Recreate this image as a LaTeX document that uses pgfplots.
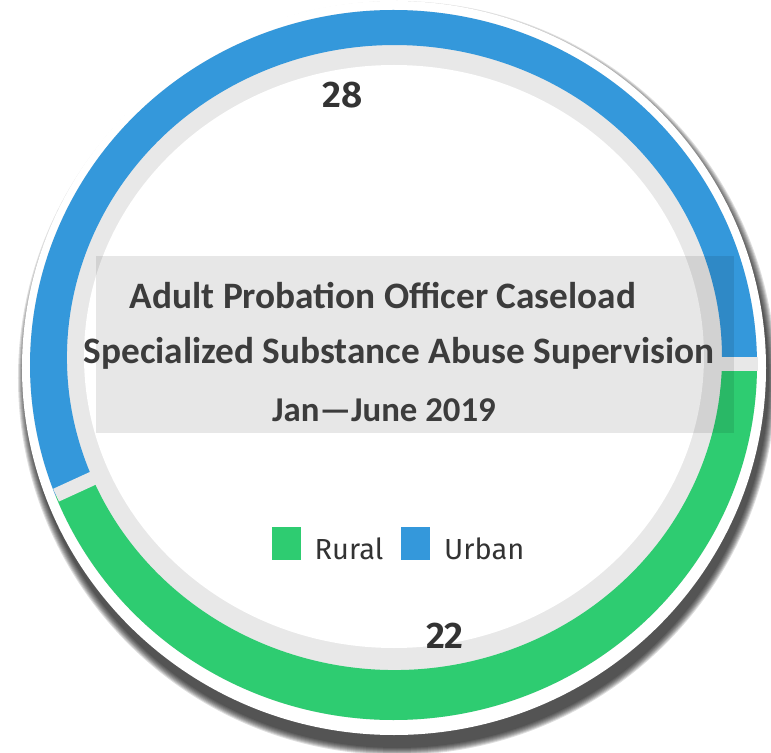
\documentclass[border=0pt]{standalone}
\usepackage{fontspec}
\setmainfont{Carlito}
\newfontfamily\firasans{Fira Sans}
\newfontfamily\firasemi{Fira Sans SemiBold}
\usepackage{pgfplots}
\usepackage{pgfplotstable}
\pgfplotsset{compat=1.18}

\definecolor{rural}{HTML}{2ECC71}
\definecolor{urban}{HTML}{3498DB}
\definecolor{band}{HTML}{E8E8E8}
\definecolor{titletext}{HTML}{3C3C3C}
\definecolor{labeltext}{HTML}{333333}

% caseload, Jan--June 2019
\pgfplotstableread{
group value
Rural 22
Urban 28
}\caseload

% ring geometry (bp): outer and inner edge of the coloured band
\def\ocx{393.5}\def\ocy{388}\def\orx{363.5bp}\def\ory{355bp}
\def\icx{394.5}\def\icy{395.5}\def\irx{327.5bp}\def\iry{312.5bp}

% one ring segment from angle #2 to angle #3
\newcommand\ringseg[3]{%
  \fill[#1] ([shift={(#2:\orx\space and \ory)}]axis cs:\ocx,\ocy)
    arc[start angle=#2, end angle=#3, x radius=\orx, y radius=\ory]
    -- ([shift={(#3:\irx\space and \iry)}]axis cs:\icx,\icy)
    arc[start angle=#3, end angle=#2, x radius=\irx, y radius=\iry] -- cycle;}
% white-ish cut between two segments, along a ray from the ring centre
\newcommand\ringgap[1]{%
  \draw[band, line width=14bp] ([shift={(#1:316bp and 300bp)}]axis cs:394,388.5)
    -- ([shift={(#1:\orx\space and \ory)}]axis cs:394,388.5);}

\begin{document}
\begin{tikzpicture}
\path[use as bounding box] (0,0) rectangle (771bp,753bp);
\pgfplotstablegetelem{0}{value}\of\caseload \let\rural\pgfplotsretval
\pgfplotstablegetelem{1}{value}\of\caseload \let\urban\pgfplotsretval
\pgfmathsetmacro\sweepR{360*\rural/(\rural+\urban)}
\pgfmathsetmacro\splitA{360-\sweepR}
\pgfmathsetmacro\midU{\splitA/2}
\pgfmathsetmacro\midR{-\sweepR/2}
\pgfmathsetmacro\endR{-\sweepR}
\begin{axis}[
  at={(0,0)}, anchor=origin,
  x=1bp, y=1bp, xmin=0, xmax=771, ymin=0, ymax=753,
  hide axis, clip=false,
  legend columns=2,
  legend style={at={(axis cs:398,209)}, anchor=center, draw=none, fill=none,
    font=\firasans\fontsize{29bp}{29bp}\selectfont, text=labeltext,
    nodes={inner sep=0pt},
    /tikz/every odd column/.append style={column sep=14bp},
    /tikz/every even column/.append style={column sep=18bp}},
  legend image code/.code={\path[#1, draw=none] (0bp,-10bp) rectangle (29bp,23bp);},
]
% drop shadow
\pgfplotsinvokeforeach{0,...,7}{
  \fill[black, opacity=0.13] (axis cs:397,375) ellipse [x radius={379bp-#1bp}, y radius={377bp-#1bp}];
}
\fill[white] (axis cs:394,385) ellipse [x radius=372bp, y radius=367bp];
% grey track
\fill[band] (axis cs:\ocx,\ocy) ellipse [x radius=\orx, y radius=\ory];
\fill[white] (axis cs:394,396.5) ellipse [x radius=310bp, y radius=291.5bp];
% segments
\ringseg{urban}{0}{\splitA}
\ringseg{rural}{0}{\endR}
\ringgap{0}
\ringgap{\splitA}
% title box
\fill[black, opacity=0.095] (axis cs:96,320) rectangle (axis cs:734,497);
\node[anchor=base, text=titletext, font=\bfseries\fontsize{37.3bp}{40bp}\selectfont] at (axis cs:383,444) {Adult Probation Officer Caseload};
\node[anchor=base, text=titletext, font=\bfseries\fontsize{37.3bp}{40bp}\selectfont] at (axis cs:399,389) {Specialized Substance Abuse Supervision};
\node[anchor=base, text=titletext, font=\bfseries\fontsize{34.8bp}{36bp}\selectfont] at (axis cs:384,332) {Jan---June 2019};
% value labels
\node[text=labeltext, font=\firasemi\fontsize{37bp}{40bp}\selectfont] at ([shift={(\midU:272bp and 275.5bp)}]axis cs:394,387.5) {\urban};
\node[text=labeltext, font=\firasemi\fontsize{37bp}{40bp}\selectfont] at ([shift={(\midR:272bp and 275.5bp)}]axis cs:394,387.5) {\rural};
\addlegendimage{fill=rural}
\addlegendentry{Rural}
\addlegendimage{fill=urban}
\addlegendentry{Urban}
\end{axis}
\end{tikzpicture}
\end{document}
